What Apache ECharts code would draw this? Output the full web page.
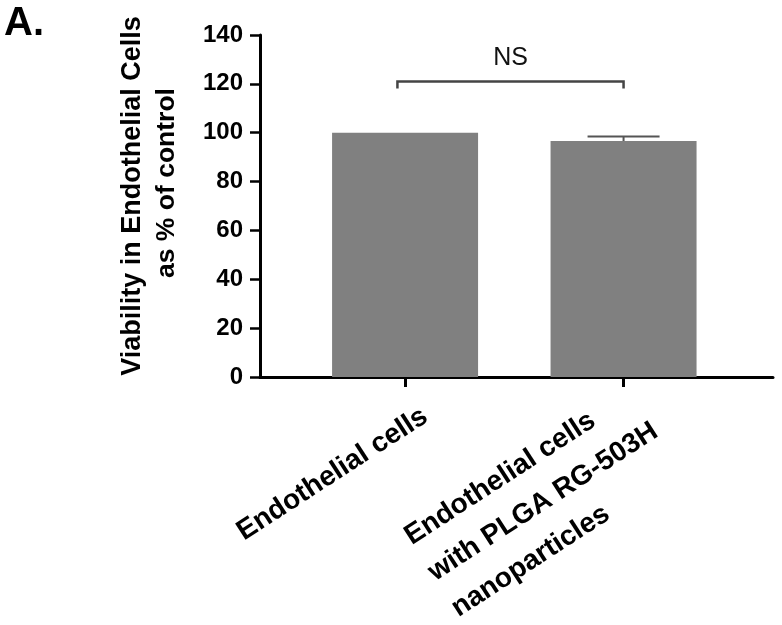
<!DOCTYPE html>
<html><head><meta charset="utf-8">
<script src="https://cdn.jsdelivr.net/npm/echarts@6/dist/echarts.min.js"></script>
<style>html,body{margin:0;padding:0;background:#fff}#c{width:782px;height:625px}</style>
</head><body><div id="c"></div>
<script>
// ---- data ----
const categories = ['Endothelial cells', 'Endothelial cells\nwith PLGA RG-503H\nnanoparticles'];
const categoryPositions = [1, 2];
const viability = [100, 96.6];
const viabilityError = [0, 1.8];
const yTickValues = [0, 20, 40, 60, 80, 100, 120, 140];
const bracketStart = [0.965];
const bracketEnd = [2.0];
const bracketLevel = [121];
const bracketLabel = ['NS'];

const FONT = 'Liberation Sans, Arial, Helvetica, sans-serif';
const chart = echarts.init(document.getElementById('c'), null, {renderer: 'canvas'});

const barData = categoryPositions.map((x, i) => [x, viability[i]]);
const errData = categoryPositions.map((x, i) => [x, viability[i], viabilityError[i]]);
const brData = bracketStart.map((s, i) => [s, bracketEnd[i], bracketLevel[i], bracketLabel[i]]);

function xLabel(v) {
  const i = categoryPositions.indexOf(Math.round(v));
  if (i < 0) return '';
  const lines = categories[i].split('\n');
  if (i === 0) return lines.map(l => '{a|' + l + '}').join('\n');
  return '{e2| }\n' + lines.map(l => '{b|' + l + '}').join('\n');
}

const option = {
  animation: false,
  backgroundColor: '#fff',
  graphic: [{type: 'text', left: 4, top: 4, style: {text: 'A.', font: 'bold 40px ' + FONT, fill: '#000'}}],
  grid: {left: 260, right: 9, top: 35, bottom: 248, containLabel: false, outerBoundsMode: 'none'},
  xAxis: {
    type: 'value', min: 0.336, max: 2.684,
    splitLine: {show: false},
    axisLine: {show: true, onZero: false, lineStyle: {color: '#000', width: 3}},
    axisTick: {show: true, interval: 0, customValues: categoryPositions, length: 10, lineStyle: {color: '#000', width: 3}},
    axisLabel: {
      customValues: categoryPositions, rotate: 33, margin: 50, interval: 0,
      showMinLabel: true, showMaxLabel: true, hideOverlap: false,
      formatter: xLabel, color: '#000',
      fontFamily: FONT, fontSize: 28, fontWeight: 'bold',
      rich: {
        e2: {lineHeight: 38, fontSize: 10},
        a: {fontFamily: FONT, fontSize: 28, fontWeight: 'bold', color: '#000', lineHeight: 30, width: 197, align: 'left'},
        b: {fontFamily: FONT, fontSize: 28, fontWeight: 'bold', color: '#000', lineHeight: 43, width: 242, align: 'left'}
      }
    }
  },
  yAxis: {
    type: 'value', min: yTickValues[0], max: yTickValues[yTickValues.length - 1], interval: 20,
    splitLine: {show: false},
    axisLine: {show: true, lineStyle: {color: '#000', width: 3}},
    axisTick: {show: true, length: 10, lineStyle: {color: '#000', width: 2.5}},
    axisLabel: {margin: 17, color: '#000', fontFamily: FONT, fontSize: 24, fontWeight: 'bold'},
    name: '{s1| }{t1|Viability in Endothelial Cells}\n{s2| }{t2|as % of control}',
    nameLocation: 'middle', nameRotate: 90, nameGap: 76,
    nameTextStyle: {
      color: '#000', fontFamily: FONT, fontSize: 26.5, fontWeight: 'bold', lineHeight: 34,
      rich: {
        t1: {color: '#000', fontFamily: FONT, fontSize: 27, fontWeight: 'bold', lineHeight: 34},
        t2: {color: '#000', fontFamily: FONT, fontSize: 26.5, fontWeight: 'bold', lineHeight: 34},
        s1: {width: 20, lineHeight: 34},
        s2: {width: 46, lineHeight: 34}
      }
    }
  },
  series: [
    {
      type: 'bar', data: barData, barWidth: 146,
      itemStyle: {color: '#808080'}, z: 2
    },
    {
      type: 'custom', data: errData, z: 3,
      renderItem: function (params, api) {
        const x = api.value(0), m = api.value(1), e = api.value(2);
        if (!e) return null;
        const top = api.coord([x, m + e]);
        const base = api.coord([x, m]);
        return {type: 'group', children: [
          {type: 'line', shape: {x1: top[0], y1: top[1], x2: base[0], y2: base[1]}, style: {stroke: '#555', lineWidth: 2}},
          {type: 'line', shape: {x1: top[0] - 36, y1: top[1], x2: top[0] + 36, y2: top[1]}, style: {stroke: '#555', lineWidth: 2}}
        ]};
      }
    },
    {
      type: 'custom', data: brData, z: 3,
      renderItem: function (params, api) {
        const p1 = api.coord([api.value(0), api.value(2)]);
        const p2 = api.coord([api.value(1), api.value(2)]);
        const d = bracketLabel[params.dataIndex];
        return {type: 'group', children: [
          {type: 'polyline', shape: {points: [[p1[0], p1[1] + 7], [p1[0], p1[1]], [p2[0], p2[1]], [p2[0], p2[1] + 7]]},
           style: {stroke: '#444', lineWidth: 2.5, fill: null}},
          {type: 'text', x: (p1[0] + p2[0]) / 2, y: p1[1] - 23,
           style: {text: d, font: '25px ' + FONT, fill: '#111', align: 'center', verticalAlign: 'middle'}}
        ]};
      }
    }
  ]
};
chart.setOption(option);
</script></body></html>
